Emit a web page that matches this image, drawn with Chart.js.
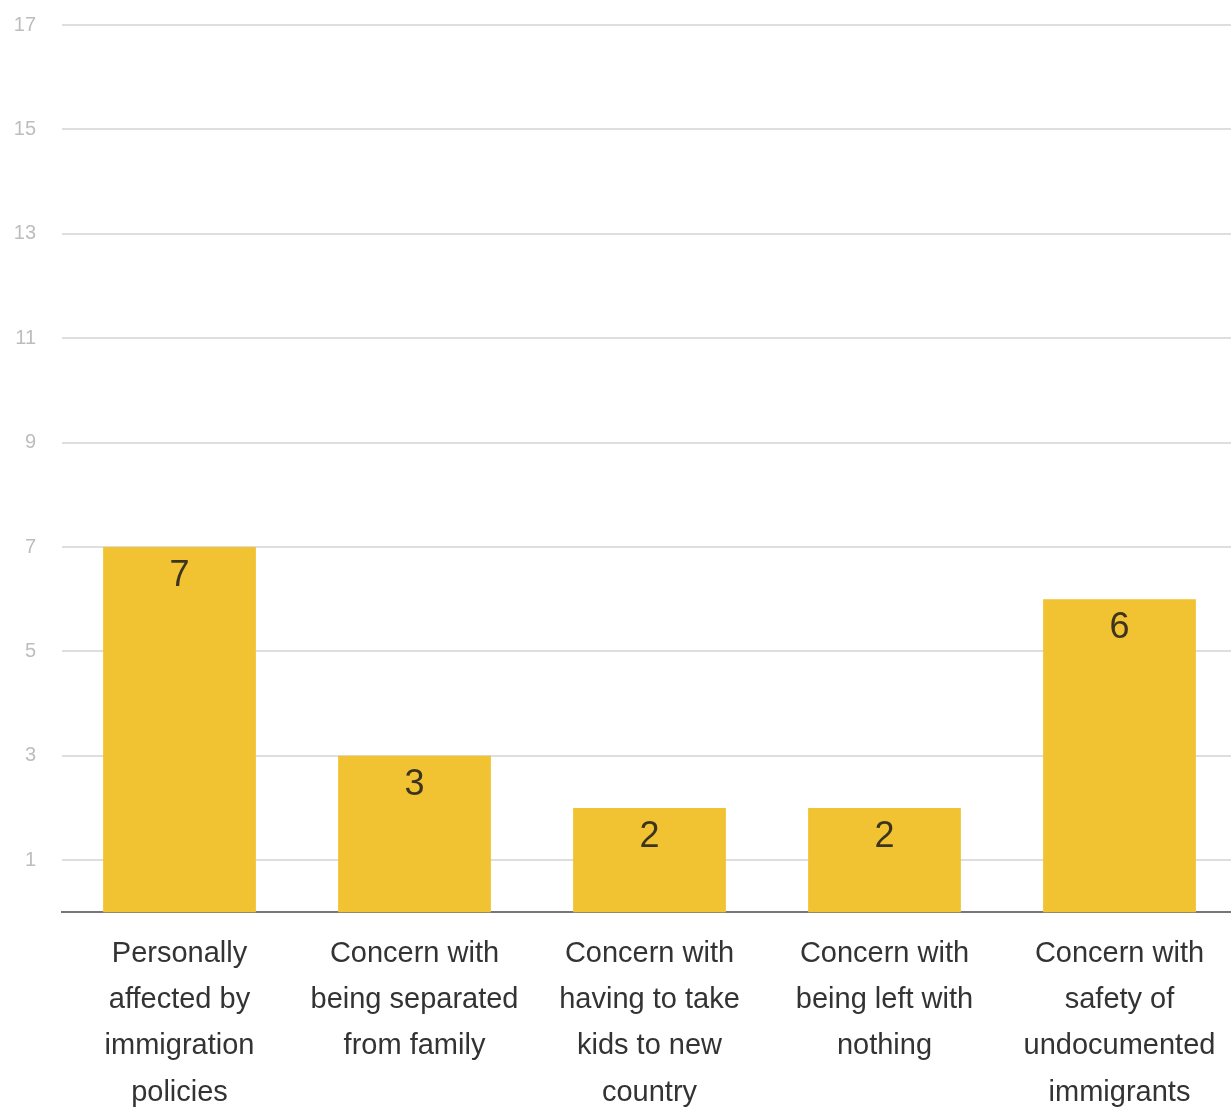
<!DOCTYPE html>
<html>
<head>
<meta charset="utf-8">
<script src="https://cdn.jsdelivr.net/npm/chart.js@4.4.0/dist/chart.umd.min.js"></script>
<style>
  html, body { margin: 0; padding: 0; background: #fff; overflow: hidden; }
  #wrap { width: 1240px; height: 1109px; }
</style>
</head>
<body>
<div id="wrap"><canvas id="chart" width="1240" height="1109"></canvas></div>
<script>
// categories (wrapped as in the original)
const categories = [
    ['Personally', 'affected by', 'immigration', 'policies'],
    ['Concern with', 'being separated', 'from family'],
    ['Concern with', 'having to take', 'kids to new', 'country'],
    ['Concern with', 'being left with', 'nothing'],
    ['Concern with', 'safety of', 'undocumented', 'immigrants']
];
const counts = [7, 3, 2, 2, 6];
const yTicks = [1, 3, 5, 7, 9, 11, 13, 15, 17];

// draws the value inside the top of each bar
const barLabels = {
    id: 'barLabels',
    afterDatasetsDraw(chart) {
        const ctx = chart.ctx;
        const meta = chart.getDatasetMeta(0);
        ctx.save();
        ctx.fillStyle = '#3d3420';
        ctx.font = '36px "Liberation Sans", Arial, sans-serif';
        ctx.textAlign = 'center';
        ctx.textBaseline = 'top';
        meta.data.forEach((bar, i) => {
            ctx.fillText(String(counts[i]), bar.x, bar.y + 11);
        });
        ctx.restore();
    }
};

new Chart(document.getElementById('chart').getContext('2d'), {
    type: 'bar',
    data: {
        labels: categories,
        datasets: [{
            data: counts,
            backgroundColor: '#f1c232',
            borderWidth: 0,
            barPercentage: 0.65,
            categoryPercentage: 1
        }]
    },
    options: {
        responsive: false,
        animation: false,
        layout: { padding: { top: 25, right: 3, left: 0, bottom: 0 } },
        plugins: {
            legend: { display: false },
            tooltip: { enabled: false }
        },
        scales: {
            x: {
                grid: { display: false },
                border: { display: true, color: '#777', width: 2 },
                afterFit(scale) {
                    scale.height = scale.height - 17;
                },
                ticks: {
                    color: '#333',
                    font: { family: '"Liberation Sans", Arial, sans-serif', size: 29, lineHeight: 1.6 },
                    maxRotation: 0,
                    autoSkip: false,
                    padding: 10
                }
            },
            y: {
                min: 0,
                max: 17,
                afterBuildTicks(scale) {
                    scale.ticks = yTicks.map(v => ({ value: v }));
                },
                afterFit(scale) {
                    scale.width = 62;
                    scale.paddingTop = 0;
                    scale.paddingBottom = 0;
                },
                grid: { color: '#dedede', lineWidth: 2, drawTicks: false },
                border: { display: false },
                ticks: {
                    color: '#bdbdbd',
                    font: { family: '"Liberation Sans", Arial, sans-serif', size: 20 },
                    padding: 26
                }
            }
        }
    },
    plugins: [barLabels]
});
</script>
</body>
</html>
